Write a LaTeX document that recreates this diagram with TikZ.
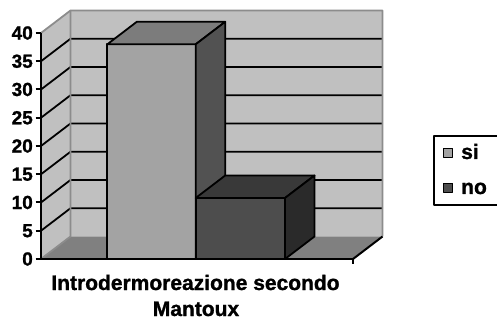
\documentclass[tikz,border=0pt]{standalone}
\usepackage{fontspec}
\setmainfont{Liberation Sans}[BoldFont={Liberation Sans Bold},BoldFeatures={FakeBold=1.2}]
\begin{document}
\begin{tikzpicture}[x=1pt,y=1pt,line join=round]
\definecolor{wallc}{HTML}{C0C0C0}
\definecolor{floorc}{HTML}{808080}
\definecolor{edgec}{HTML}{8C8C8C}
\definecolor{sifront}{HTML}{A3A3A3}
\definecolor{sitop}{HTML}{7C7C7C}
\definecolor{siside}{HTML}{525252}
\definecolor{nofront}{HTML}{4D4D4D}
\definecolor{notop}{HTML}{393939}
\definecolor{noside}{HTML}{2A2A2A}
\tikzset{
  gridln/.style={black,line width=1.8pt},
  edgeln/.style={edgec,line width=1.8pt},
  axisln/.style={black,line width=2pt},
  barln/.style={draw=black,line width=1.8pt},
  ticklab/.style={anchor=east,inner sep=0pt,font=\bfseries\fontsize{19}{19}\selectfont},
  biglab/.style={anchor=base,inner sep=0pt,font=\bfseries\fontsize{21}{24}\selectfont},
  leglab/.style={anchor=base west,inner sep=0pt,font=\bfseries\fontsize{21}{24}\selectfont},
  swatch/.style={draw=black,line width=1.5pt}
}
\useasboundingbox (0,0) rectangle (497,321);
\clip (0,0) rectangle (497,321);
% back wall
\fill[wallc] (70.5,84.5) rectangle (382.5,310.5);
% side wall
\fill[wallc] (41,62) -- (41,288) -- (70.5,310.5) -- (70.5,84.5) -- cycle;
% floor
\fill[floorc] (41,62) -- (353,62) -- (382.5,84.5) -- (70.5,84.5) -- cycle;
% gridlines
\foreach \k in {1,...,7} {
  \draw[gridln] (41,62+28.25*\k) -- (70.5,84.5+28.25*\k) -- (382.5,84.5+28.25*\k);
}
% grey edges
\draw[edgeln] (41,288) -- (70.5,310.5) -- (382.5,310.5) -- (382.5,84.5);
\draw[edgeln] (70.5,310.5) -- (70.5,84.5) -- (41,62);
% floor right edge
\draw[axisln] (353,62) -- (382.5,84.5);
% bar si
\filldraw[barln,fill=sifront] (107.3,62) rectangle (195.7,276.7);
\filldraw[barln,fill=sitop] (107.3,276.7) -- (195.7,276.7) -- (225.2,299.2) -- (136.8,299.2) -- cycle;
\filldraw[barln,fill=siside] (195.7,62) -- (225.2,84.5) -- (225.2,299.2) -- (195.7,276.7) -- cycle;
% bar no
\filldraw[barln,fill=nofront] (195.7,62) rectangle (285,123);
\filldraw[barln,fill=notop] (195.7,123) -- (285,123) -- (314.5,145.5) -- (225.2,145.5) -- cycle;
\filldraw[barln,fill=noside] (285,62) -- (314.5,84.5) -- (314.5,145.5) -- (285,123) -- cycle;
% axes
\draw[axisln] (41,288) -- (41,62) -- (353,62) -- (353,57);
\foreach \k in {0,...,8} {
  \draw[axisln] (35.5,62+28.25*\k) -- (41,62+28.25*\k);
}
\foreach \k/\v in {0/0,1/5,2/10,3/15,4/20,5/25,6/30,7/35,8/40} {
  \node[ticklab] (t\k) at (33,62+28.25*\k) {\v};
}
% axis title
\node[biglab] (xlab1) at (195.5,31) {Introdermoreazione secondo};
\node[biglab] (xlab2) at (196,5) {Mantoux};
% legend
\draw[black,line width=1.5pt] (434,116) rectangle (500,185);
\filldraw[swatch,fill=sifront] (443.5,163.5) rectangle (452.5,172.5);
\filldraw[swatch,fill=nofront] (443.5,128.5) rectangle (452.5,137.5);
\node[leglab] (lsi) at (461,162) {si};
\node[leglab] (lno) at (461,127) {no};
\end{tikzpicture}
\end{document}
